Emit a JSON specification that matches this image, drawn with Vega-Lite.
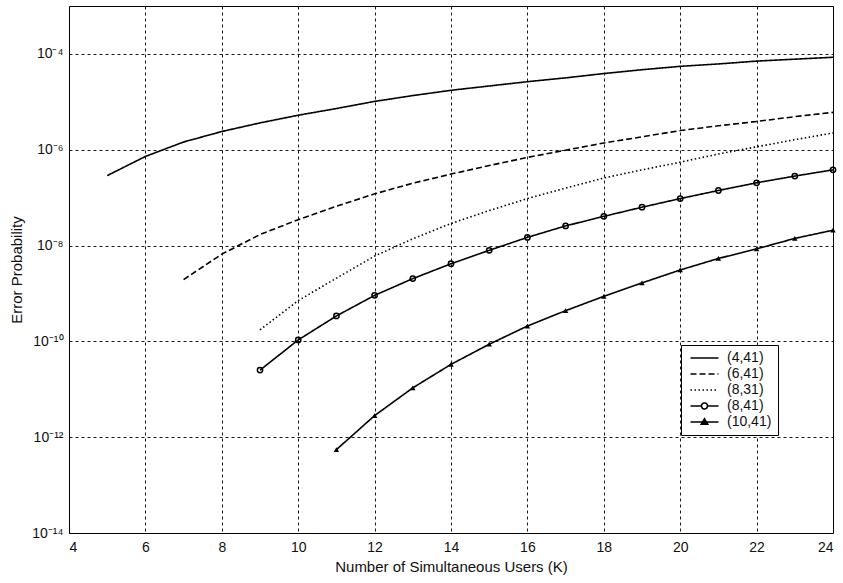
{
  "$schema": "https://vega.github.io/schema/vega-lite/v6.json",
  "width": 764,
  "height": 527,
  "autosize": {"type": "none"},
  "padding": {"left": 69, "top": 6, "right": 10, "bottom": 50},
  "background": "white",
  "config": {
    "view": {"stroke": "black", "strokeWidth": 1},
    "font": "Liberation Sans",
    "axis": {
      "grid": true,
      "gridColor": "black",
      "gridDash": [3, 3],
      "gridWidth": 1,
      "gridOpacity": 0.9,
      "domain": false,
      "ticks": false,
      "labelFont": "Liberation Sans",
      "labelFontSize": 14,
      "labelColor": "#111",
      "titleFont": "Liberation Sans",
      "titleFontSize": 15,
      "titleFontWeight": "normal",
      "titleColor": "#111"
    }
  },
  "data": {
    "values": [
      {"series": "(4,41)", "K": 5, "p": 2.88e-7},
      {"series": "(4,41)", "K": 6, "p": 7.24e-7},
      {"series": "(4,41)", "K": 7, "p": 1.45e-6},
      {"series": "(4,41)", "K": 8, "p": 2.4e-6},
      {"series": "(4,41)", "K": 9, "p": 3.63e-6},
      {"series": "(4,41)", "K": 10, "p": 5.25e-6},
      {"series": "(4,41)", "K": 11, "p": 7.24e-6},
      {"series": "(4,41)", "K": 12, "p": 1.02e-5},
      {"series": "(4,41)", "K": 13, "p": 1.35e-5},
      {"series": "(4,41)", "K": 14, "p": 1.74e-5},
      {"series": "(4,41)", "K": 15, "p": 2.14e-5},
      {"series": "(4,41)", "K": 16, "p": 2.63e-5},
      {"series": "(4,41)", "K": 17, "p": 3.16e-5},
      {"series": "(4,41)", "K": 18, "p": 3.89e-5},
      {"series": "(4,41)", "K": 19, "p": 4.68e-5},
      {"series": "(4,41)", "K": 20, "p": 5.5e-5},
      {"series": "(4,41)", "K": 21, "p": 6.17e-5},
      {"series": "(4,41)", "K": 22, "p": 7.08e-5},
      {"series": "(4,41)", "K": 23, "p": 7.76e-5},
      {"series": "(4,41)", "K": 24, "p": 8.51e-5},
      {"series": "(6,41)", "K": 7, "p": 1.95e-9},
      {"series": "(6,41)", "K": 8, "p": 6.61e-9},
      {"series": "(6,41)", "K": 9, "p": 1.7e-8},
      {"series": "(6,41)", "K": 10, "p": 3.47e-8},
      {"series": "(6,41)", "K": 11, "p": 6.61e-8},
      {"series": "(6,41)", "K": 12, "p": 1.2e-7},
      {"series": "(6,41)", "K": 13, "p": 2.0e-7},
      {"series": "(6,41)", "K": 14, "p": 3.1e-7},
      {"series": "(6,41)", "K": 15, "p": 4.68e-7},
      {"series": "(6,41)", "K": 16, "p": 6.92e-7},
      {"series": "(6,41)", "K": 17, "p": 9.77e-7},
      {"series": "(6,41)", "K": 18, "p": 1.38e-6},
      {"series": "(6,41)", "K": 19, "p": 1.86e-6},
      {"series": "(6,41)", "K": 20, "p": 2.51e-6},
      {"series": "(6,41)", "K": 21, "p": 3.16e-6},
      {"series": "(6,41)", "K": 22, "p": 3.89e-6},
      {"series": "(6,41)", "K": 23, "p": 4.9e-6},
      {"series": "(6,41)", "K": 24, "p": 6.03e-6},
      {"series": "(8,31)", "K": 9, "p": 1.74e-10},
      {"series": "(8,31)", "K": 10, "p": 7.08e-10},
      {"series": "(8,31)", "K": 11, "p": 2.09e-9},
      {"series": "(8,31)", "K": 12, "p": 6.03e-9},
      {"series": "(8,31)", "K": 13, "p": 1.38e-8},
      {"series": "(8,31)", "K": 14, "p": 2.88e-8},
      {"series": "(8,31)", "K": 15, "p": 5.37e-8},
      {"series": "(8,31)", "K": 16, "p": 9.55e-8},
      {"series": "(8,31)", "K": 17, "p": 1.58e-7},
      {"series": "(8,31)", "K": 18, "p": 2.57e-7},
      {"series": "(8,31)", "K": 19, "p": 3.8e-7},
      {"series": "(8,31)", "K": 20, "p": 5.5e-7},
      {"series": "(8,31)", "K": 21, "p": 8.13e-7},
      {"series": "(8,31)", "K": 22, "p": 1.15e-6},
      {"series": "(8,31)", "K": 23, "p": 1.62e-6},
      {"series": "(8,31)", "K": 24, "p": 2.24e-6},
      {"series": "(8,41)", "K": 9, "p": 2.51e-11},
      {"series": "(8,41)", "K": 10, "p": 1.07e-10},
      {"series": "(8,41)", "K": 11, "p": 3.39e-10},
      {"series": "(8,41)", "K": 12, "p": 9.12e-10},
      {"series": "(8,41)", "K": 13, "p": 2.04e-9},
      {"series": "(8,41)", "K": 14, "p": 4.17e-9},
      {"series": "(8,41)", "K": 15, "p": 7.94e-9},
      {"series": "(8,41)", "K": 16, "p": 1.48e-8},
      {"series": "(8,41)", "K": 17, "p": 2.57e-8},
      {"series": "(8,41)", "K": 18, "p": 4.07e-8},
      {"series": "(8,41)", "K": 19, "p": 6.31e-8},
      {"series": "(8,41)", "K": 20, "p": 9.55e-8},
      {"series": "(8,41)", "K": 21, "p": 1.41e-7},
      {"series": "(8,41)", "K": 22, "p": 2.04e-7},
      {"series": "(8,41)", "K": 23, "p": 2.82e-7},
      {"series": "(8,41)", "K": 24, "p": 3.8e-7},
      {"series": "(10,41)", "K": 11, "p": 5.5e-13},
      {"series": "(10,41)", "K": 12, "p": 2.82e-12},
      {"series": "(10,41)", "K": 13, "p": 1.07e-11},
      {"series": "(10,41)", "K": 14, "p": 3.31e-11},
      {"series": "(10,41)", "K": 15, "p": 8.71e-11},
      {"series": "(10,41)", "K": 16, "p": 2.09e-10},
      {"series": "(10,41)", "K": 17, "p": 4.37e-10},
      {"series": "(10,41)", "K": 18, "p": 8.71e-10},
      {"series": "(10,41)", "K": 19, "p": 1.66e-9},
      {"series": "(10,41)", "K": 20, "p": 3.09e-9},
      {"series": "(10,41)", "K": 21, "p": 5.37e-9},
      {"series": "(10,41)", "K": 22, "p": 8.51e-9},
      {"series": "(10,41)", "K": 23, "p": 1.41e-8},
      {"series": "(10,41)", "K": 24, "p": 2.09e-8}
    ]
  },
  "encoding": {
    "x": {
      "field": "K",
      "type": "quantitative",
      "scale": {"domain": [4, 24], "nice": false, "zero": false},
      "axis": {
        "title": "Number of Simultaneous Users (K)",
        "values": [4, 6, 8, 10, 12, 14, 16, 18, 20, 22, 24],
        "labelPadding": 7,
        "titlePadding": 5
      }
    },
    "y": {
      "field": "p",
      "type": "quantitative",
      "scale": {"type": "log", "domain": [1e-14, 1e-3], "nice": false},
      "axis": {
        "title": "Error Probability",
        "values": [1e-14, 1e-12, 1e-10, 1e-8, 1e-6, 1e-4],
        "labelExpr": "'10' + (round(log(datum.value)/LN10) == -4 ? '⁻⁴' : round(log(datum.value)/LN10) == -6 ? '⁻⁶' : round(log(datum.value)/LN10) == -8 ? '⁻⁸' : round(log(datum.value)/LN10) == -10 ? '⁻¹⁰' : round(log(datum.value)/LN10) == -12 ? '⁻¹²' : '⁻¹⁴')",
        "labelPadding": 6,
        "titlePadding": 7
      }
    }
  },
  "layer": [
    {
      "mark": {"type": "line", "color": "black", "strokeWidth": 1.6},
      "encoding": {
        "strokeDash": {
          "field": "series",
          "type": "nominal",
          "scale": {
            "domain": ["(4,41)", "(6,41)", "(8,31)", "(8,41)", "(10,41)"],
            "range": [[1, 0], [6, 3], [1.5, 2.5], [1, 0], [1, 0]]
          },
          "legend": {
            "title": null,
            "orient": "none",
            "legendX": 612,
            "legendY": 339,
            "strokeColor": "black",
            "fillColor": "white",
            "padding": 6,
            "cornerRadius": 0,
            "labelFont": "Liberation Sans",
            "labelFontSize": 14,
            "labelColor": "#111",
            "symbolSize": 49,
            "symbolStrokeWidth": 1.6,
            "symbolStrokeColor": "black",
            "symbolType": "M-1,0H7",
            "labelOffset": 26,
            "rowPadding": 2,
            "encode": {
              "symbols": {
                "update": {
                  "shape": {"signal": "datum.value === '(8,41)' ? 'M-1,0H2.14M3.86,0H7M2.14,0A0.86,0.86 0 1,1 3.86,0A0.86,0.86 0 1,1 2.14,0' : datum.value === '(10,41)' ? 'M-1,0H7M2.1,0.6L3,-0.9L3.9,0.6Z' : 'M-1,0H7'"},
                  "fill": {"signal": "datum.value === '(10,41)' ? 'black' : 'transparent'"},
                  "stroke": {"value": "black"}
                }
              },
              "legend": {
                "update": {
                  "width": {"value": 93}
                }
              }
            }
          }
        }
      }
    },
    {
      "transform": [{"filter": "datum.series === '(8,41)'"}],
      "mark": {"type": "point", "shape": "circle", "filled": false, "color": "black", "strokeWidth": 1.5, "size": 28, "opacity": 1}
    },
    {
      "transform": [{"filter": "datum.series === '(10,41)'"}],
      "mark": {"type": "point", "shape": "triangle-up", "filled": true, "color": "black", "size": 30, "opacity": 1}
    }
  ]
}
